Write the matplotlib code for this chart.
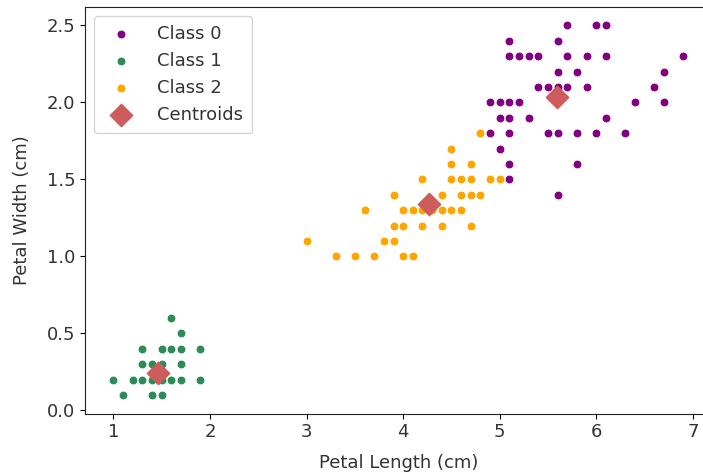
import matplotlib
matplotlib.use("Agg")
import matplotlib.pyplot as plt

# Class 0 (purple)
c0_len = [6.0, 5.1, 5.9, 5.6, 5.8, 6.6, 6.3, 5.8, 6.1, 5.1, 5.3, 5.5, 5.0, 5.1, 5.3, 5.5,
          6.7, 6.9, 5.7, 4.9, 6.7, 4.9, 5.7, 6.0, 4.9, 5.6, 5.8, 6.1, 6.4, 5.6, 5.1, 5.6,
          6.1, 5.6, 5.5, 5.4, 5.6, 5.1, 5.1, 5.9, 5.7, 5.2, 5.0, 5.2, 5.4, 5.1, 5.0, 5.1]
c0_wid = [2.5, 1.9, 2.1, 1.8, 2.2, 2.1, 1.8, 1.8, 2.5, 2.0, 1.9, 2.1, 2.0, 2.4, 2.3, 1.8,
          2.2, 2.3, 2.3, 2.0, 2.0, 1.8, 2.1, 1.8, 1.8, 2.1, 1.6, 1.9, 2.0, 2.2, 1.5, 1.4,
          2.3, 2.4, 1.8, 2.1, 2.4, 2.3, 1.9, 2.3, 2.5, 2.3, 1.9, 2.0, 2.3, 1.8, 1.7, 1.6]

# Class 1 (green)
c1_len = [1.4, 1.4, 1.3, 1.5, 1.4, 1.7, 1.4, 1.5, 1.4, 1.5, 1.5, 1.6, 1.4, 1.1, 1.2, 1.5,
          1.3, 1.4, 1.7, 1.5, 1.7, 1.5, 1.0, 1.7, 1.9, 1.6, 1.6, 1.5, 1.4, 1.6, 1.6, 1.5,
          1.5, 1.4, 1.5, 1.2, 1.3, 1.4, 1.3, 1.5, 1.3, 1.3, 1.3, 1.6, 1.9, 1.4, 1.6, 1.4,
          1.5, 1.4]
c1_wid = [0.2, 0.2, 0.2, 0.2, 0.2, 0.4, 0.3, 0.2, 0.2, 0.1, 0.2, 0.2, 0.1, 0.1, 0.2, 0.4,
          0.4, 0.3, 0.3, 0.3, 0.2, 0.4, 0.2, 0.5, 0.2, 0.2, 0.4, 0.2, 0.2, 0.2, 0.2, 0.4,
          0.1, 0.2, 0.2, 0.2, 0.2, 0.1, 0.2, 0.2, 0.3, 0.3, 0.2, 0.6, 0.4, 0.3, 0.2, 0.2,
          0.2, 0.2]

# Class 2 (orange)
c2_len = [4.7, 4.5, 4.9, 4.0, 4.6, 4.5, 4.7, 3.3, 4.6, 3.9, 3.5, 4.2, 4.0, 4.7, 3.6, 4.4,
          4.5, 4.1, 4.5, 3.9, 4.8, 4.0, 4.9, 4.7, 4.3, 4.4, 4.8, 4.5, 3.5, 3.8, 3.7, 3.9,
          4.5, 4.5, 4.7, 4.4, 4.1, 4.0, 4.4, 4.6, 4.0, 3.3, 4.2, 4.2, 4.2, 4.3, 3.0, 4.1,
          4.5, 4.8, 4.8, 5.0]
c2_wid = [1.4, 1.5, 1.5, 1.3, 1.5, 1.3, 1.6, 1.0, 1.3, 1.4, 1.0, 1.5, 1.0, 1.4, 1.3, 1.4,
          1.5, 1.0, 1.5, 1.1, 1.8, 1.3, 1.5, 1.2, 1.3, 1.4, 1.4, 1.5, 1.0, 1.1, 1.0, 1.2,
          1.5, 1.6, 1.5, 1.3, 1.3, 1.3, 1.2, 1.4, 1.2, 1.0, 1.3, 1.2, 1.3, 1.3, 1.1, 1.3,
          1.7, 1.8, 1.8, 1.5]

# Centroids
cent_len = [5.596, 1.462, 4.269]
cent_wid = [2.0375, 0.246, 1.342]

TXT = "#333333"
plt.rcParams["text.color"] = TXT
plt.rcParams["axes.labelcolor"] = TXT
plt.rcParams["xtick.labelcolor"] = TXT
plt.rcParams["ytick.labelcolor"] = TXT
plt.rcParams["axes.edgecolor"] = "#222222"

W, H = 703, 472
fig = plt.figure(figsize=(W / 100, H / 100), dpi=100)
L, R, T, B = 85, 711.7, 7, 413.5
ax = fig.add_axes([L / W, 1 - B / H, (R - L) / W, (B - T) / H])

kw = dict(s=40, edgecolor="white", linewidth=0.6, zorder=2)
ax.scatter(c0_len, c0_wid, color="purple", label="Class 0", **kw)
ax.scatter(c1_len, c1_wid, color="seagreen", label="Class 1", **kw)
ax.scatter(c2_len, c2_wid, color="orange", label="Class 2", **kw)
ax.scatter(cent_len, cent_wid, color="indianred", marker="D", s=130, label="Centroids", zorder=3)

ax.set_xlim(0.705, 7.195)
ax.set_ylim(-0.02, 2.62)
ax.set_xticks([1, 2, 3, 4, 5, 6, 7])
ax.set_yticks([0.0, 0.5, 1.0, 1.5, 2.0, 2.5])
FS = 13
ax.tick_params(labelsize=FS)
ax.set_xlabel("Petal Length (cm)", fontsize=FS, labelpad=9)
ax.set_ylabel("Petal Width (cm)", fontsize=FS, labelpad=11)
ax.legend(loc="upper left", fontsize=FS, borderpad=0.5, handletextpad=1.0)

fig.savefig("out.png", dpi=100)
